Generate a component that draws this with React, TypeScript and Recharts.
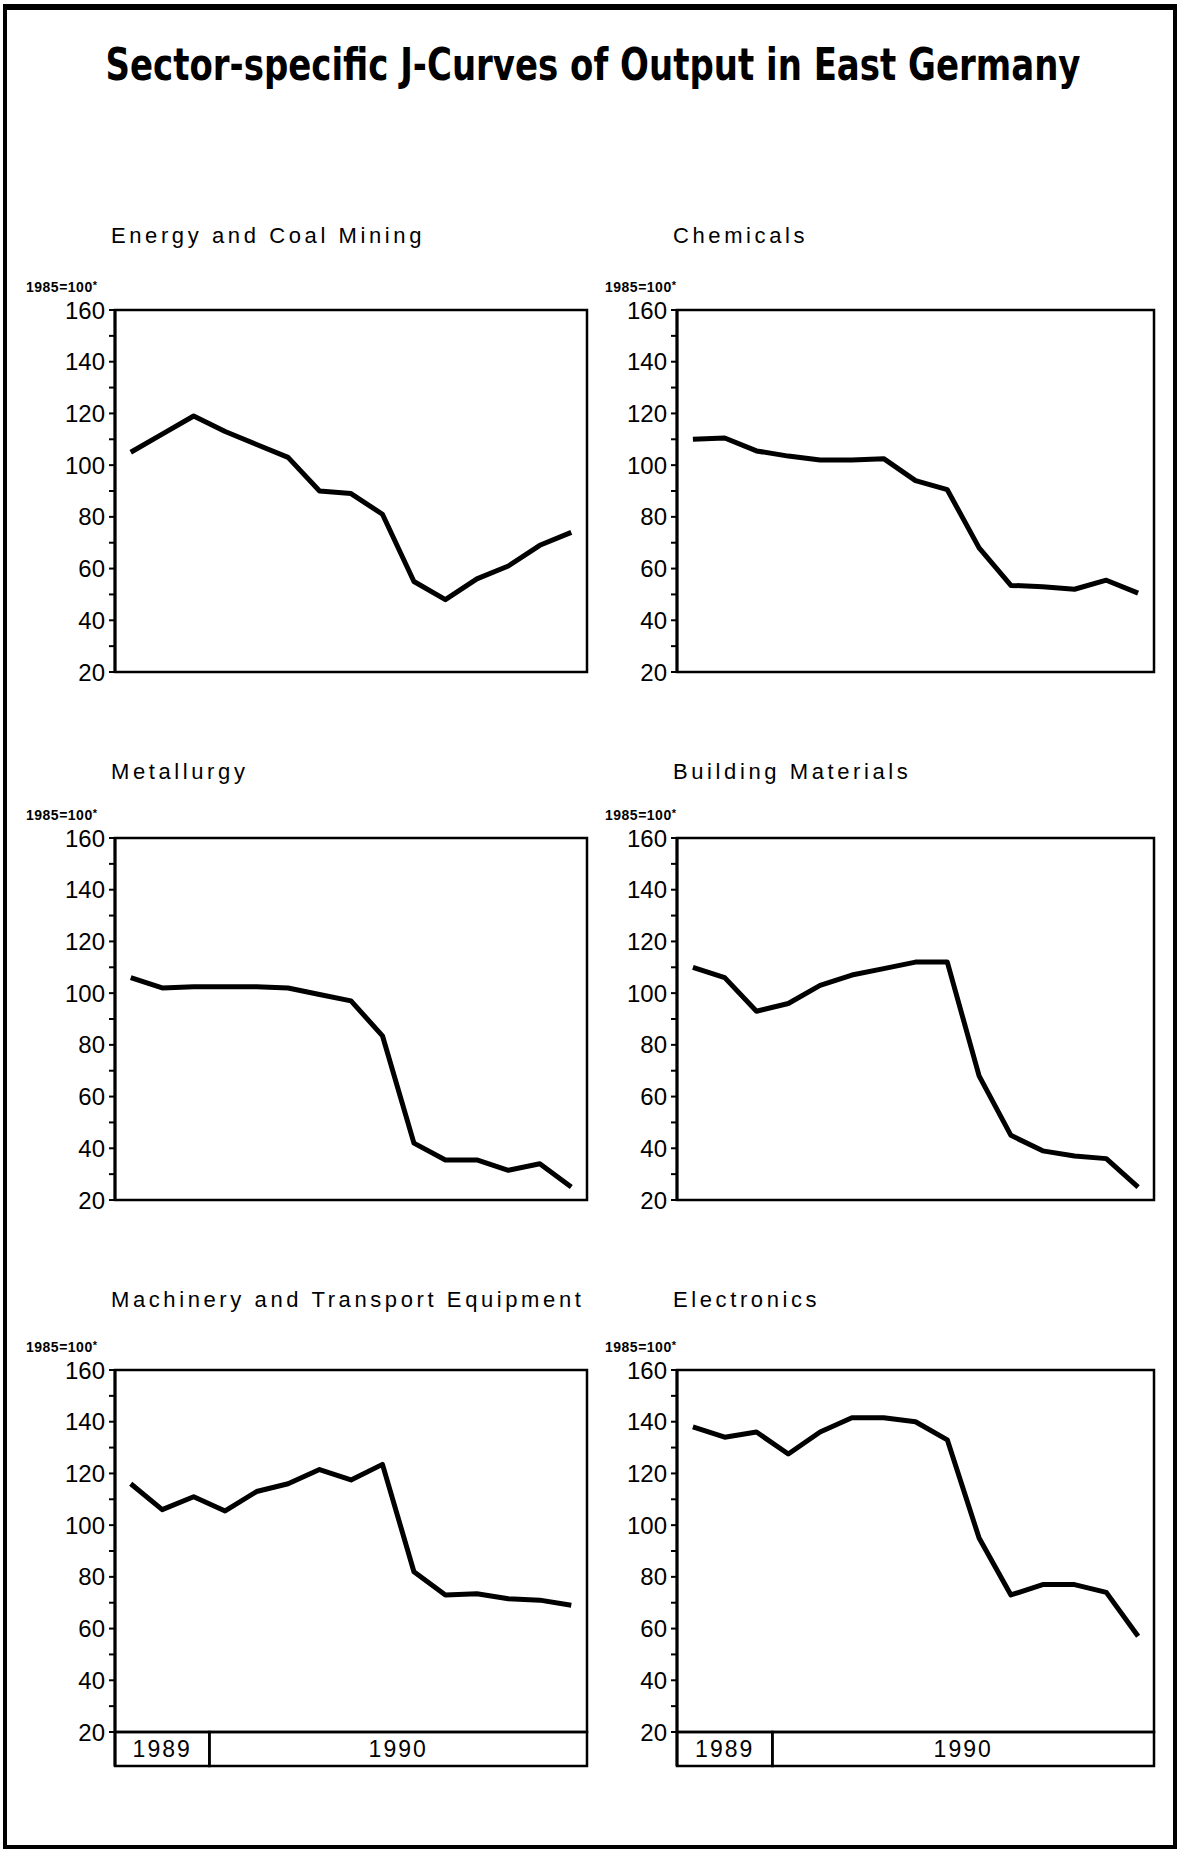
import React from "react";
import { LineChart, Line, XAxis, YAxis, ReferenceArea } from "recharts";

// Oct 1989 .. Dec 1990, monthly index values (1985 = 100)
const months = [
  "1989-10", "1989-11", "1989-12",
  "1990-01", "1990-02", "1990-03", "1990-04", "1990-05", "1990-06",
  "1990-07", "1990-08", "1990-09", "1990-10", "1990-11", "1990-12",
];

const energy = [105, 112, 119, 113, 108, 103, 90, 89, 81, 55, 48, 56, 61, 69, 74];
const chemicals = [110, 110.5, 105.5, 103.5, 102, 102, 102.5, 94, 90.5, 68, 53.5, 53, 52, 55.5, 50.5];
const metallurgy = [106, 102, 102.5, 102.5, 102.5, 102, 99.5, 97, 83.5, 42, 35.5, 35.5, 31.5, 34, 25];
const building = [110, 106, 93, 96, 103, 107, 109.5, 112, 112, 68, 45, 39, 37, 36, 25];
const machinery = [116, 106, 111, 105.5, 113, 116, 121.5, 117.5, 123.5, 82, 73, 73.5, 71.5, 71, 69];
const electronics = [138, 134, 136, 127.5, 136, 141.5, 141.5, 140, 133, 95, 73, 77, 77, 74, 57];

const yTicks = [20, 30, 40, 50, 60, 70, 80, 90, 100, 110, 120, 130, 140, 150, 160];
const years = ["1989", "1990"];
const yearMonthCounts = [3, 12];

const FONT = "'Liberation Sans', Arial, sans-serif";
const BOX_H = 362;
const YEAR_H = 34;
const AXIS_W = 75;
const PAD = 18;

interface PanelProps {
  title: string;
  values: number[];
  left: number;
  top: number;
  width: number;
  titleY: number;
  labelDx: number;
  showYears?: boolean;
}

function Panel({ title, values, left, top, width, titleY, labelDx, showYears = false }: PanelProps) {
  const data = months.map((m, i) => ({ x: i + 1, month: m, value: values[i] }))
  const extra = showYears ? YEAR_H : 0
  const yMin = 20 - (extra * 140) / BOX_H

  // spans of the year row, built from month counts
  let start = 0.5
  const spans = years.map((y, i) => {
    const s = { label: y, x1: start, x2: start + yearMonthCounts[i] }
    start += yearMonthCounts[i]
    return s
  })

  return (
    <>
      <div
        style={{
          position: "absolute",
          left: left - 4,
          top: titleY - 13,
          fontFamily: FONT,
          fontSize: 22,
          letterSpacing: 3.6,
          lineHeight: "26px",
          whiteSpace: "nowrap",
        }}
      >
        {title}
      </div>
      <div
        style={{
          position: "absolute",
          left: left + labelDx,
          top: top - 31,
          fontFamily: FONT,
          fontSize: 14,
          fontWeight: "bold",
          letterSpacing: 0.5,
          lineHeight: "16px",
          whiteSpace: "nowrap",
        }}
      >
        1985=100<span style={{ fontSize: 11, position: "relative", top: -3 }}>*</span>
      </div>
      <div style={{ position: "absolute", left: left - AXIS_W, top: top - PAD }}>
        <LineChart
          width={width + AXIS_W + 10}
          height={BOX_H + extra + PAD * 2}
          data={data}
          margin={{ top: PAD, right: 10, left: 0, bottom: PAD }}
        >
          <XAxis type="number" dataKey="x" domain={[0.5, 15.5]} hide allowDataOverflow />
          <YAxis
            type="number"
            domain={[yMin, 160]}
            allowDataOverflow
            ticks={yTicks}
            interval={0}
            width={AXIS_W}
            tickSize={6}
            tickMargin={4}
            tickFormatter={(v: number) => (v % 20 === 0 ? String(v) : "")}
            tick={{ fill: "#000", fontSize: 24, fontFamily: FONT }}
            tickLine={{ stroke: "#000", strokeWidth: 2 }}
            axisLine={{ stroke: "#000", strokeWidth: 3 }}
          />
          <ReferenceArea x1={0.5} x2={15.5} y1={20} y2={160} fill="none" stroke="#000" strokeWidth={2.5} />
          {showYears &&
            spans.map((s) => (
              <ReferenceArea
                key={s.label}
                x1={s.x1}
                x2={s.x2}
                y1={yMin}
                y2={20}
                fill="none"
                stroke="#000"
                strokeWidth={2.5}
                label={{ value: s.label, position: "center", fill: "#000", fontSize: 23, fontFamily: FONT, letterSpacing: 2 }}
              />
            ))}
          <Line
            type="linear"
            dataKey="value"
            stroke="#000"
            strokeWidth={5}
            strokeLinejoin="round"
            dot={false}
            isAnimationActive={false}
          />
        </LineChart>
      </div>
    </>
  )
}

export default function App() {
  const colL = { left: 115, width: 472, labelDx: -89 }
  const colR = { left: 677, width: 477, labelDx: -72 }
  const rows = [310, 838, 1370]
  const titleYs = [236, 772, 1300]

  return (
    <div style={{ position: "absolute", left: 0, top: 0, width: 1181, height: 1852, background: "#fff" }}>
      <div
        style={{
          position: "absolute",
          left: 3,
          top: 4,
          width: 1174,
          height: 1845,
          border: "4px solid #000",
          borderTopWidth: 6,
          boxSizing: "border-box",
        }}
      />
      <svg width={1181} height={120} style={{ position: "absolute", left: 0, top: 0 }}>
        {/* tall, narrow plotter-style title: small font stretched vertically */}
        <text
          transform="translate(593,80) scale(1,1.36)"
          x={0}
          y={0}
          textAnchor="middle"
          fontFamily="'DejaVu Sans Condensed', 'DejaVu Sans', sans-serif"
          fontWeight="bold"
          fontSize={33}
          textLength={975}
          lengthAdjust="spacingAndGlyphs"
          fill="#000"
        >
          Sector-specific J-Curves of Output in East Germany
        </text>
      </svg>

      <Panel title="Energy and Coal Mining" values={energy} top={rows[0]} titleY={titleYs[0]} {...colL} />
      <Panel title="Chemicals" values={chemicals} top={rows[0]} titleY={titleYs[0]} {...colR} />
      <Panel title="Metallurgy" values={metallurgy} top={rows[1]} titleY={titleYs[1]} {...colL} />
      <Panel title="Building Materials" values={building} top={rows[1]} titleY={titleYs[1]} {...colR} />
      <Panel title="Machinery and Transport Equipment" values={machinery} top={rows[2]} titleY={titleYs[2]} showYears {...colL} />
      <Panel title="Electronics" values={electronics} top={rows[2]} titleY={titleYs[2]} showYears {...colR} />
    </div>
  )
}
